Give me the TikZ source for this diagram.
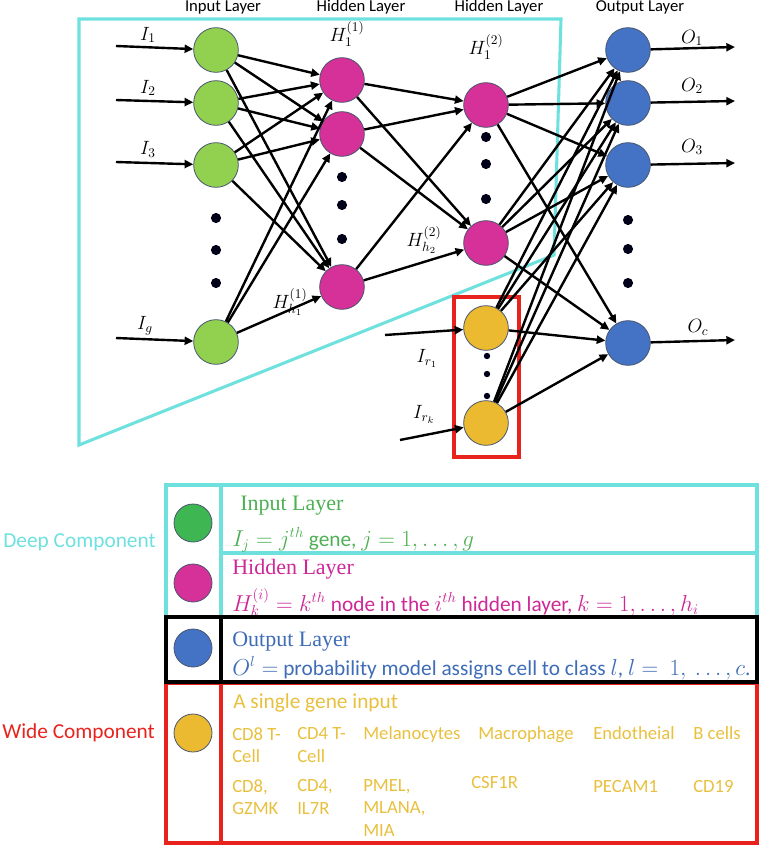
\documentclass[tikz,border=0pt]{standalone}
\usepackage{fontspec}
\setmainfont{Carlito}
\newfontfamily\headserif{Liberation Serif}
\usetikzlibrary{arrows.meta}

\definecolor{InGreen}{RGB}{146,208,80}
\definecolor{HidPink}{RGB}{214,48,153}
\definecolor{OutBlue}{RGB}{68,114,196}
\definecolor{WideGold}{RGB}{235,186,48}
\definecolor{DeepCyan}{RGB}{110,225,222}
\definecolor{WideRed}{RGB}{232,35,30}
\definecolor{LegGreen}{RGB}{62,182,82}
\definecolor{TxtGreen}{RGB}{78,176,84}
\definecolor{TxtPink}{RGB}{205,40,150}
\definecolor{TxtBlue}{RGB}{62,108,182}
\definecolor{TxtGold}{RGB}{232,192,62}
\definecolor{NodeRim}{RGB}{72,86,110}

\tikzset{
  neuron/.style={circle, draw=NodeRim, line width=0.6pt, minimum size=33.5pt, inner sep=0pt},
  innode/.style={neuron, fill=InGreen},
  hidnode/.style={neuron, fill=HidPink},
  outnode/.style={neuron, fill=OutBlue},
  widenode/.style={neuron, fill=WideGold},
  legdot/.style={circle, draw=NodeRim, line width=0.6pt, minimum size=28.5pt, inner sep=0pt},
  conn/.style={line width=1.8pt, -{Triangle[length=6.5pt,width=6pt]}},
  layertitle/.style={font=\fontsize{12.5}{14}\selectfont},
  nlabel/.style={font=\fontsize{14}{16}\selectfont},
  legtitle/.style={anchor=west, inner sep=0pt, font=\headserif\fontsize{16.5}{19}\selectfont},
  legline/.style={anchor=west, inner sep=0pt, font=\fontsize{16}{19}\selectfont},
  genecell/.style={anchor=north west, inner sep=0pt, align=left, text=TxtGold, font=\fontsize{14}{17}\selectfont},
  boxline/.style={line width=2.3pt},
}

\begin{document}
\begin{tikzpicture}[x=0.75pt, y=-0.75pt]
		%\draw[thin, gray!30, step=20] (0,0) grid (760,845);
		\useasboundingbox (0,0) rectangle (760,845);
		
		% deep and wide frames
		\draw[boxline, DeepCyan] (79,19) -- (561,19) -- (554,255) -- (79,445) -- cycle;
		\draw[boxline, WideRed] (454,297) rectangle (519,457);
		
		% layer titles
		\node[layertitle] (tin) at (223,7) {Input Layer};
		\node[layertitle] (th1) at (361,7) {Hidden Layer};
		\node[layertitle] (th2) at (499,7) {Hidden Layer};
		\node[layertitle] (tout) at (640,7) {Output Layer};
		
		% neurons
		\node[innode] (i1) at (216,50) {};
		\node[innode] (i2) at (216,103) {};
		\node[innode] (i3) at (216,165) {};
		\node[innode] (ig) at (216,342) {};
		
		\node[hidnode] (h11) at (342,80) {};
		\node[hidnode] (h12) at (342,134) {};
		\node[hidnode] (h1n) at (342,287) {};
		
		\node[hidnode] (h21) at (486,105) {};
		\node[hidnode] (h2n) at (486,243) {};
		
		\node[outnode] (o1) at (628,50) {};
		\node[outnode] (o2) at (628,103) {};
		\node[outnode] (o3) at (628,165) {};
		\node[outnode] (oc) at (628,343) {};
		
		\node[widenode] (w1) at (486,328) {};
		\node[widenode] (wk) at (486,423) {};
		
		% dots
		\foreach \y in {218,250,283} \fill[black!90!blue] (216,\y) circle (3.8pt);
		\foreach \y in {177,205,239} \fill[black!90!blue] (342,\y) circle (3.8pt);
		\foreach \y in {137,164,199} \fill[black!90!blue] (486,\y) circle (3.8pt);
		\foreach \y in {220,249,283} \fill[black!90!blue] (628,\y) circle (3.8pt);
		\foreach \y in {356,374,396} \fill[black!90!blue] (487,\y) circle (2.4pt);
		
		% free ends
		\coordinate (a1) at (116,46);
		\coordinate (a2) at (116,100);
		\coordinate (a3) at (116,162);
		\coordinate (ag) at (116,338);
		\coordinate (ar1) at (385,335);
		\coordinate (ark) at (400,440);
		\coordinate (e1) at (735,47);
		\coordinate (e2) at (735,101);
		\coordinate (e3) at (735,163);
		\coordinate (ec) at (735,340);
		
		% inputs and outputs
		\draw[conn] (a1) -- (i1);
		\draw[conn] (a2) -- (i2);
		\draw[conn] (a3) -- (i3);
		\draw[conn] (ag) -- (ig);
		\draw[conn] (ar1) -- (w1);
		\draw[conn] (ark) -- (wk);
		\draw[conn] (o1) -- (e1);
		\draw[conn] (o2) -- (e2);
		\draw[conn] (o3) -- (e3);
		\draw[conn] (oc) -- (ec);
		
		% input -> hidden 1
		\draw[conn] (i1) -- (h11);
		\draw[conn] (i1) -- (h12);
		\draw[conn] (i1) -- (h1n);
		\draw[conn] (i2) -- (h11);
		\draw[conn] (i2) -- (h12);
		\draw[conn] (i2) -- (h1n);
		\draw[conn] (i3) -- (h11);
		\draw[conn] (i3) -- (h12);
		\draw[conn] (i3) -- (h1n);
		\draw[conn] (ig) -- (h11);
		\draw[conn] (ig) -- (h12);
		\draw[conn] (ig) -- (h1n);
		
		% hidden 1 -> hidden 2
		\draw[conn] (h11) -- (h21);
		\draw[conn] (h11) -- (h2n);
		\draw[conn] (h12) -- (h21);
		\draw[conn] (h12) -- (h2n);
		\draw[conn] (h1n) -- (h21);
		\draw[conn] (h1n) -- (h2n);
		
		% hidden 2 -> output
		\draw[conn] (h21) -- (o1);
		\draw[conn] (h21) -- (o2);
		\draw[conn] (h21) -- (o3);
		\draw[conn] (h21) -- (oc);
		\draw[conn] (h2n) -- (o1);
		\draw[conn] (h2n) -- (o2);
		\draw[conn] (h2n) -- (o3);
		\draw[conn] (h2n) -- (oc);
		
		% wide -> output
		\draw[conn] (w1) -- (o1);
		\draw[conn] (w1) -- (o2);
		\draw[conn] (w1) -- (o3);
		\draw[conn] (w1) -- (oc);
		\draw[conn] (wk) -- (o1);
		\draw[conn] (wk) -- (o2);
		\draw[conn] (wk) -- (o3);
		\draw[conn] (wk) -- (oc);
		
		% labels
		\node[nlabel] (li1) at (148,35) {$I_1$};
		\node[nlabel] (li2) at (148,88) {$I_2$};
		\node[nlabel] (li3) at (148,149) {$I_3$};
		\node[nlabel] (lig) at (145,326) {$I_g$};
		\node[nlabel] (lh11) at (347,34) {$H_1^{(1)}$};
		\node[nlabel] (lh1n) at (290,302) {$H_{h_1}^{(1)}$};
		\node[nlabel] (lh21) at (486,47) {$H_1^{(2)}$};
		\node[nlabel] (lh2n) at (424,240) {$H_{h_2}^{(2)}$};
		\node[nlabel] (lo1) at (692,38) {$O_1$};
		\node[nlabel] (lo2) at (692,86) {$O_2$};
		\node[nlabel] (lo3) at (692,147) {$O_3$};
		\node[nlabel] (loc) at (698,327) {$O_c$};
		\node[nlabel] (lw1) at (427,358) {$I_{r_1}$};
		\node[nlabel] (lwk) at (424,414) {$I_{r_k}$};
		
		% legend frames
		\draw[boxline, DeepCyan] (166,485) rectangle (757,617);
		\draw[boxline, DeepCyan] (221,485) -- (221,617);
		\draw[boxline, DeepCyan] (221,553) -- (757,553);
		\draw[boxline, WideRed] (166,683) rectangle (757,843);
		\draw[boxline, WideRed] (221,683) -- (221,843);
		\draw[boxline, black] (166,617) rectangle (757,682);
		\draw[boxline, black] (221,617) -- (221,682);
		
		% legend symbols
		\node[legdot, fill=LegGreen] (kin) at (193,523) {};
		\node[legdot, fill=HidPink] (khid) at (193,583) {};
		\node[legdot, fill=OutBlue] (kout) at (193,648) {};
		\node[legdot, fill=WideGold] (kwide) at (193,733) {};
		
		\node[legline, text=DeepCyan] (deep) at (3,542) {Deep Component};
		\node[legline, text=WideRed] (wide) at (2,733) {Wide Component};
		
		\node[legtitle, text=TxtGreen] (kin1) at (240,506) {Input Layer};
		\node[legline, text=TxtGreen] (kin2) at (232,540) {$I_j = j^{th}$ gene, $j = 1, \ldots, g$};
		\node[legtitle, text=TxtPink] (khid1) at (232,569) {Hidden Layer};
		\node[legline, text=TxtPink] (khid2) at (232,602) {$H_k^{(i)} = k^{th}$ node in the $i^{th}$ hidden layer, $k = 1, \ldots, h_i$};
		\node[legtitle, text=TxtBlue] (kout1) at (232,642) {Output Layer};
		\node[legline, text=TxtBlue] (kout2) at (232,668) {$O^l =$ probability model assigns cell to class $l$, $l =\ 1,\ \ldots, c$.};
		\node[legline, text=TxtGold] (kwide1) at (233,703) {A single gene input};
		
		% cell types and marker genes
		\node[genecell] (c1) at (232,727) {CD8 T-\\Cell};
		\node[genecell] (c2) at (297,727) {CD4 T-\\Cell};
		\node[genecell] (c3) at (363,726) {Melanocytes};
		\node[genecell] (c4) at (478,726) {Macrophage};
		\node[genecell] (c5) at (593,726) {Endotheial};
		\node[genecell] (c6) at (693,726) {B cells};
		\node[genecell] (g1) at (232,779) {CD8,\\GZMK};
		\node[genecell] (g2) at (297,779) {CD4,\\IL7R};
		\node[genecell] (g3) at (363,779) {PMEL,\\MLANA,\\MIA};
		\node[genecell] (g4) at (471,776) {CSF1R};
		\node[genecell] (g5) at (593,780) {PECAM1};
		\node[genecell] (g6) at (693,780) {CD19};
	\end{tikzpicture}
\end{document}
